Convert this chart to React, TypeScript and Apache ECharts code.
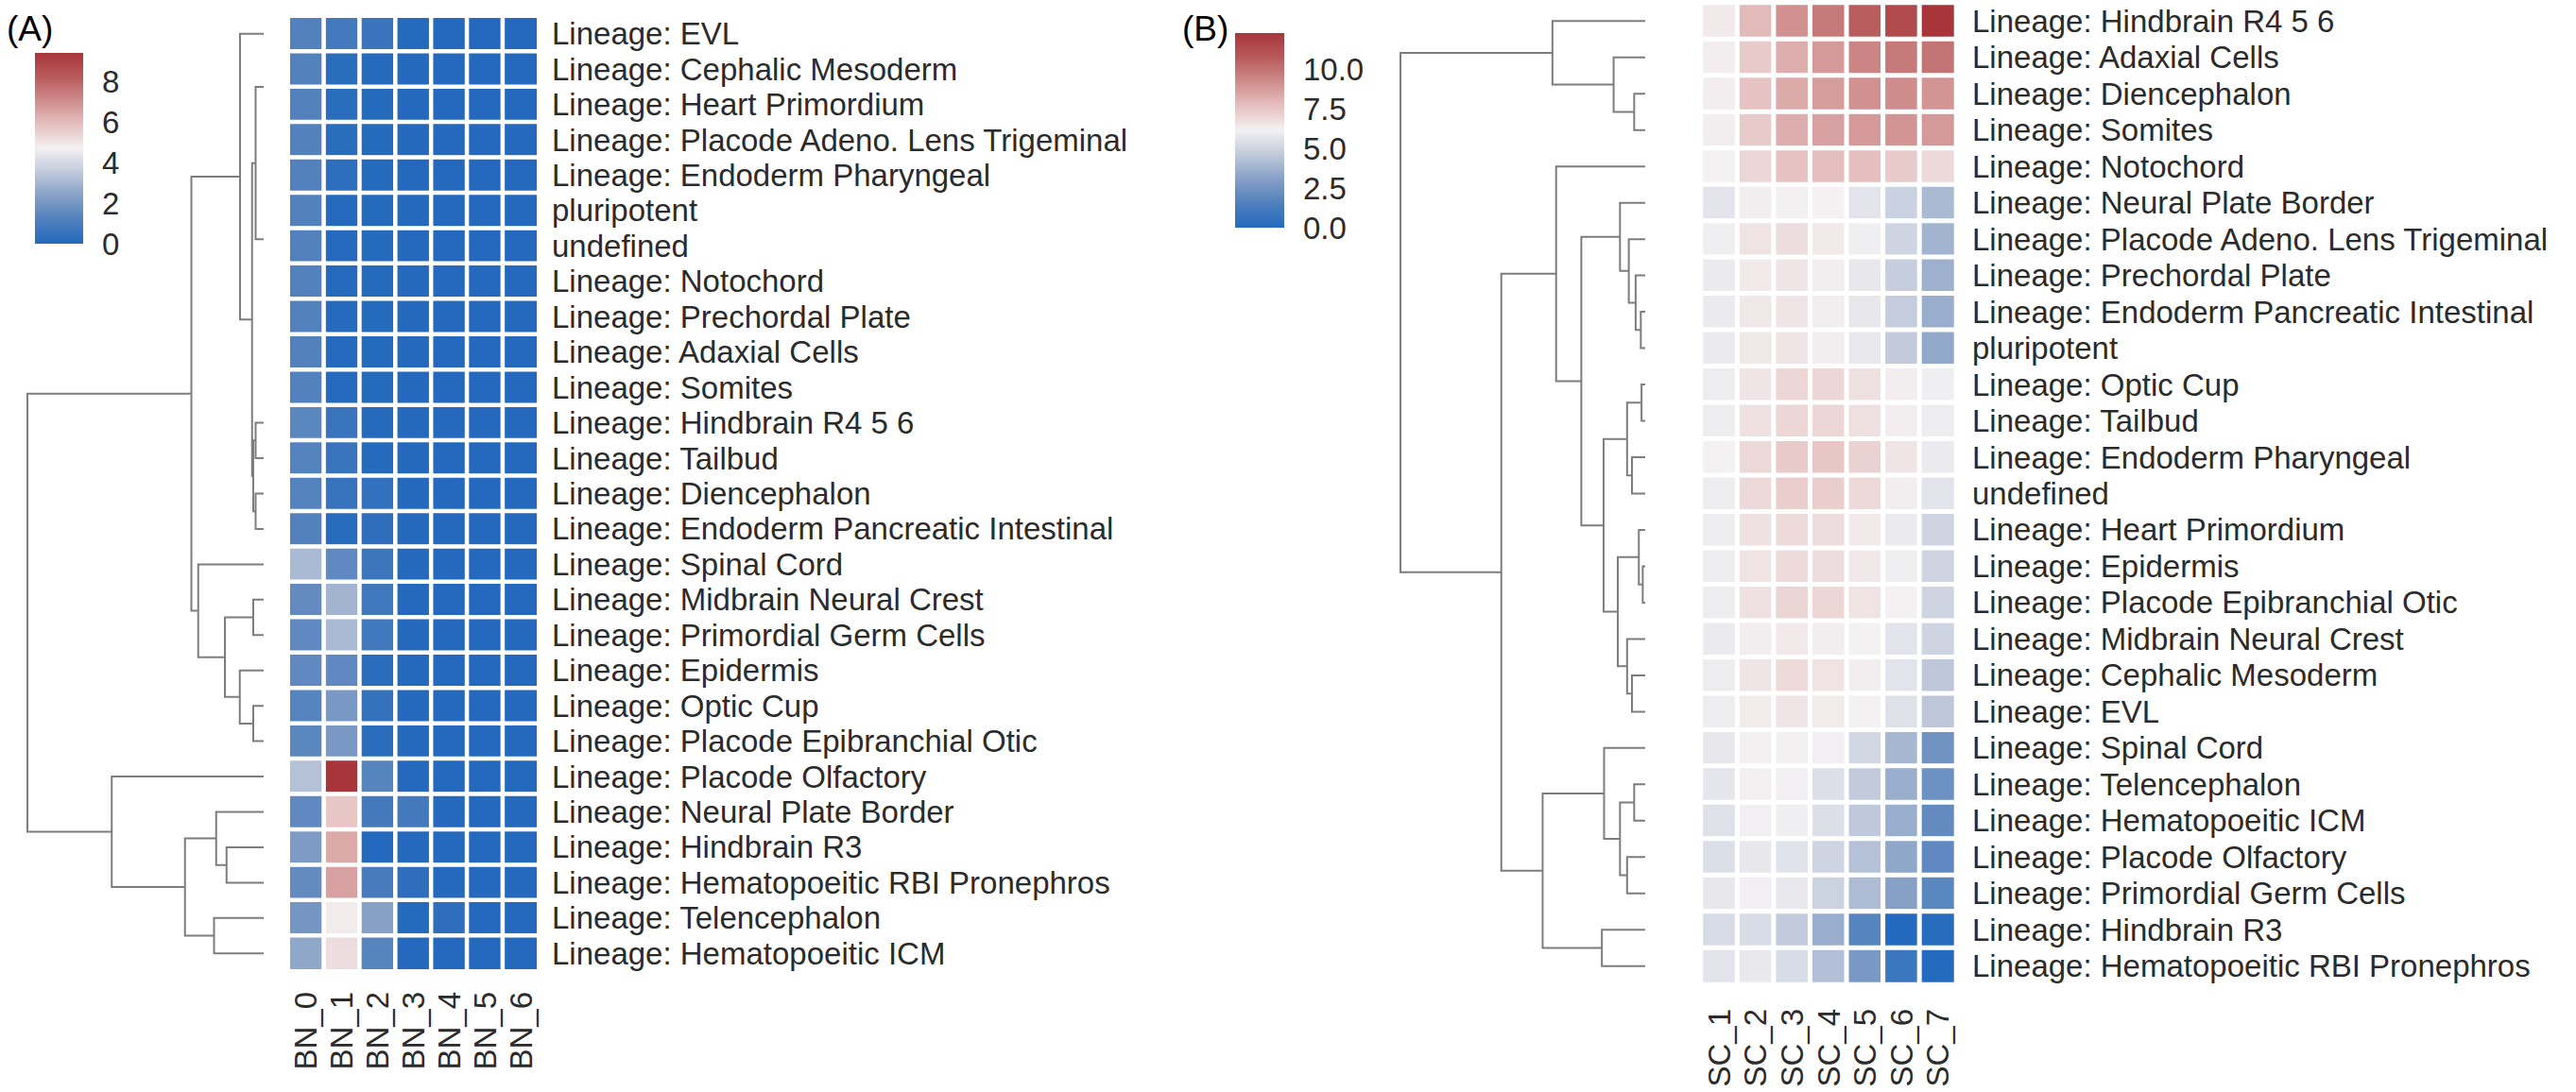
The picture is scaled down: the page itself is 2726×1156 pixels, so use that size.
import React, { useEffect, useRef } from "react";
import * as echarts from "echarts";

// ---------------- data ----------------
const ROWS_A = [
  "Lineage: EVL",
  "Lineage: Cephalic Mesoderm",
  "Lineage: Heart Primordium",
  "Lineage: Placode Adeno. Lens Trigeminal",
  "Lineage: Endoderm Pharyngeal",
  "pluripotent",
  "undefined",
  "Lineage: Notochord",
  "Lineage: Prechordal Plate",
  "Lineage: Adaxial Cells",
  "Lineage: Somites",
  "Lineage: Hindbrain R4 5 6",
  "Lineage: Tailbud",
  "Lineage: Diencephalon",
  "Lineage: Endoderm Pancreatic Intestinal",
  "Lineage: Spinal Cord",
  "Lineage: Midbrain Neural Crest",
  "Lineage: Primordial Germ Cells",
  "Lineage: Epidermis",
  "Lineage: Optic Cup",
  "Lineage: Placode Epibranchial Otic",
  "Lineage: Placode Olfactory",
  "Lineage: Neural Plate Border",
  "Lineage: Hindbrain R3",
  "Lineage: Hematopoeitic RBI Pronephros",
  "Lineage: Telencephalon",
  "Lineage: Hematopoeitic ICM",
];
const COLS_A = ["BN_0", "BN_1", "BN_2", "BN_3", "BN_4", "BN_5", "BN_6"];
const VALUES_A = [
  [1.23, 0.85, 0.57, 0.03, 0.02, 0.02, 0.02],
  [1.23, 0.19, 0.04, 0.02, 0.02, 0.02, 0.02],
  [1.23, 0.19, 0.03, 0.02, 0.02, 0.02, 0.02],
  [1.23, 0.19, 0.03, 0.02, 0.02, 0.02, 0.02],
  [1.22, 0.24, 0.03, 0.02, 0.02, 0.02, 0.02],
  [1.22, 0.05, 0.03, 0.02, 0.02, 0.02, 0.02],
  [1.22, 0.05, 0.03, 0.02, 0.02, 0.02, 0.02],
  [1.22, 0.05, 0.03, 0.02, 0.02, 0.02, 0.02],
  [1.22, 0.05, 0.03, 0.02, 0.02, 0.02, 0.02],
  [1.22, 0.05, 0.03, 0.02, 0.02, 0.02, 0.02],
  [1.22, 0.05, 0.03, 0.02, 0.02, 0.02, 0.02],
  [1.42, 0.57, 0.05, 0.02, 0.02, 0.02, 0.02],
  [1.25, 0.57, 0.06, 0.02, 0.02, 0.02, 0.02],
  [1.25, 0.52, 0.4, 0.02, 0.02, 0.02, 0.02],
  [1.23, 0.1, 0.28, 0.02, 0.02, 0.02, 0.02],
  [3.12, 1.51, 0.66, 0.02, 0.02, 0.02, 0.02],
  [1.6, 2.93, 0.76, 0.02, 0.02, 0.02, 0.02],
  [1.51, 3.12, 0.76, 0.02, 0.02, 0.02, 0.02],
  [1.51, 1.51, 0.19, 0.02, 0.02, 0.02, 0.02],
  [1.32, 2.08, 0.47, 0.02, 0.02, 0.02, 0.02],
  [1.42, 2.08, 0.19, 0.02, 0.02, 0.02, 0.02],
  [3.3, 9.44, 1.32, 0.02, 0.02, 0.02, 0.02],
  [1.51, 5.76, 0.85, 0.85, 0.02, 0.02, 0.02],
  [2.17, 6.42, 0.02, 0.02, 0.02, 0.02, 0.02],
  [1.6, 6.61, 0.94, 0.28, 0.02, 0.02, 0.02],
  [1.98, 4.86, 2.36, 0.03, 0.28, 0.02, 0.02],
  [2.55, 5.19, 1.32, 0.02, 0.02, 0.02, 0.02],
];
const VMAX_A = 9.44;
const TICKS_A = [0, 2, 4, 6, 8];

const ROWS_B = [
  "Lineage: Hindbrain R4 5 6",
  "Lineage: Adaxial Cells",
  "Lineage: Diencephalon",
  "Lineage: Somites",
  "Lineage: Notochord",
  "Lineage: Neural Plate Border",
  "Lineage: Placode Adeno. Lens Trigeminal",
  "Lineage: Prechordal Plate",
  "Lineage: Endoderm Pancreatic Intestinal",
  "pluripotent",
  "Lineage: Optic Cup",
  "Lineage: Tailbud",
  "Lineage: Endoderm Pharyngeal",
  "undefined",
  "Lineage: Heart Primordium",
  "Lineage: Epidermis",
  "Lineage: Placode Epibranchial Otic",
  "Lineage: Midbrain Neural Crest",
  "Lineage: Cephalic Mesoderm",
  "Lineage: EVL",
  "Lineage: Spinal Cord",
  "Lineage: Telencephalon",
  "Lineage: Hematopoeitic ICM",
  "Lineage: Placode Olfactory",
  "Lineage: Primordial Germ Cells",
  "Lineage: Hindbrain R3",
  "Lineage: Hematopoeitic RBI Pronephros",
];
const COLS_B = ["SC_1", "SC_2", "SC_3", "SC_4", "SC_5", "SC_6", "SC_7"];
const VALUES_B = [
  [6.4, 7.87, 9.1, 9.84, 10.7, 11.44, 12.3],
  [6.27, 7.38, 8.24, 8.86, 9.47, 9.84, 9.96],
  [6.27, 7.63, 8.36, 8.73, 9.1, 9.23, 8.98],
  [6.27, 7.38, 8.24, 8.61, 8.86, 8.98, 8.86],
  [6.15, 7.01, 7.63, 7.75, 7.75, 7.38, 6.89],
  [5.66, 6.27, 6.21, 6.15, 5.66, 4.92, 4.06],
  [6.03, 6.58, 6.77, 6.4, 6.03, 5.04, 3.81],
  [5.9, 6.4, 6.52, 6.27, 5.78, 4.8, 3.69],
  [5.9, 6.46, 6.52, 6.27, 5.78, 4.74, 3.57],
  [5.9, 6.46, 6.52, 6.27, 5.84, 4.67, 3.38],
  [5.97, 6.52, 7.01, 7.01, 6.64, 6.27, 6.03],
  [5.97, 6.64, 7.01, 7.01, 6.7, 6.27, 5.97],
  [6.15, 6.95, 7.38, 7.5, 7.13, 6.52, 5.9],
  [5.97, 6.89, 7.26, 7.26, 6.89, 6.27, 5.66],
  [5.97, 6.64, 6.83, 6.77, 6.4, 5.9, 5.04],
  [5.97, 6.58, 6.83, 6.77, 6.46, 6.03, 5.04],
  [5.97, 6.64, 7.07, 7.01, 6.58, 6.15, 5.04],
  [5.9, 6.27, 6.4, 6.27, 6.15, 5.66, 5.04],
  [5.97, 6.52, 6.83, 6.58, 6.27, 5.66, 4.55],
  [5.97, 6.33, 6.52, 6.33, 6.15, 5.54, 4.55],
  [5.78, 6.21, 6.21, 6.09, 5.17, 3.94, 2.46],
  [5.72, 6.21, 6.09, 5.47, 4.67, 3.57, 2.34],
  [5.54, 6.09, 6.03, 5.47, 4.61, 3.57, 2.09],
  [5.41, 5.78, 5.6, 5.04, 4.31, 3.32, 1.97],
  [5.78, 6.09, 5.84, 4.98, 4.12, 3.08, 1.85],
  [5.29, 5.35, 4.67, 3.57, 1.72, 0.0, 0.12],
  [5.66, 5.84, 5.35, 4.24, 2.71, 0.86, 0.05],
];
const VMAX_B = 12.3;
const TICKS_B = [0, 2.5, 5, 7.5, 10];

// dendrograms: [mergeHeight, left, right]; a number is a row index (leaf)
type Tree = number | [number, Tree, Tree];
const TREE_A: Tree = [100,
  [30.6,
    [10, 0, [4.9,
      [3.4, [0, 1, 2], [0, [0, 3, [0, 4, 5]], [0, [0, 6, 7], [0, [0, 8, 9], 10]]]],
      [4.4, [3.4, 11, 12], [3.4, 13, 14]]]],
    [27.7, 15, [16.4, [4.4, 16, 17], [10.1, 18, [4.4, 19, 20]]]]],
  [64.3, 21, [33.3, [20.1, 22, [15.7, 23, 24]], [21.0, 25, 26]]]];
const TREE_B: Tree = [100,
  [37.9, 0, [12.9, 1, [4.5, 2, 3]]],
  [58.8,
    [36.4, 4, [26.1,
      [10.3, 5, [6.7, 6, [3.9, 7, [1.8, 8, 9]]]],
      [17.0,
        [7.4, [1.5, 10, 11], [5.4, 12, 13]],
        [11.2, [2.6, 14, [1.0, 15, 16]], [7.4, 17, [5.4, 18, 19]]]]]],
    [41.9, [16.8, 20, [10.3, [4.5, 21, 22], [7.4, 23, 24]]], [17.7, 25, 26]]]];

// vlag-like colormap, evenly spaced stops
const COLORMAP = ["#2369bd", "#5080bd", "#86a0c6", "#c0c9db", "#f3f1f2", "#e6c0c0", "#ce8d8c", "#b85a5c", "#a8353a"];

// ---------------- helpers ----------------
function collectLinks(t: Tree, out: number[][]): { y: number; h: number } {
  if (typeof t === "number") return { y: t, h: 0 };
  const [h, a, b] = t;
  const A = collectLinks(a, out);
  const B = collectLinks(b, out);
  if (h > 0) out.push([h, A.y, A.h, B.y, B.h]);
  return { y: (A.y + B.y) / 2, h };
}
function heatData(vals: number[][]) {
  const d: number[][] = [];
  vals.forEach((row, r) => row.forEach((v, c) => d.push([c, r, v])));
  return d;
}

const FONT = '"Liberation Sans", Arial, sans-serif';
const TXT = "#2b2b2b";
const LINE = "#7d7d7d";

export default function App() {
  const ref = useRef<HTMLDivElement>(null);
  useEffect(() => {
    if (!ref.current) return;
    const chart = echarts.init(ref.current, undefined, { renderer: "svg" });
    const linksA: number[][] = [];
    collectLinks(TREE_A, linksA);
    const linksB: number[][] = [];
    collectLinks(TREE_B, linksB);

    const renderLink = (_p: any, api: any) => {
      const hp = api.value(0), ya = api.value(1), ha = api.value(2), yb = api.value(3), hb = api.value(4);
      const pts = [api.coord([ha, ya]), api.coord([hp, ya]), api.coord([hp, yb]), api.coord([hb, yb])];
      return { type: "polyline", shape: { points: pts }, style: { stroke: LINE, lineWidth: 2, fill: null } };
    };
    const gradient = () =>
      new echarts.graphic.LinearGradient(0, 1, 0, 0,
        COLORMAP.map((c, i) => ({ offset: i / (COLORMAP.length - 1), color: c })));

    const hidden = { show: false };
    const dendX = (gi: number) => ({ type: "value", gridIndex: gi, min: 0, max: 100, inverse: true, show: false });
    const dendY = (gi: number) => ({ type: "value", gridIndex: gi, min: -0.5, max: 26.5, inverse: true, show: false });
    const heatX = (gi: number, cols: string[], margin: number) => ({
      type: "category", gridIndex: gi, data: cols, position: "bottom",
      axisLine: hidden, axisTick: hidden, splitLine: hidden,
      axisLabel: { rotate: 90, margin, fontSize: 33, color: TXT, fontFamily: FONT, interval: 0 },
    });
    const heatY = (gi: number, rows: string[], margin: number) => ({
      type: "category", gridIndex: gi, data: rows, inverse: true, position: "right",
      axisLine: hidden, axisTick: hidden, splitLine: hidden,
      axisLabel: { margin, fontSize: 33, color: TXT, fontFamily: FONT, interval: 0 },
    });
    const cbarX = (gi: number) => ({ type: "category", gridIndex: gi, data: [""], show: false });
    const cbarY = (gi: number, vmax: number, ticks: number[], dec: number) => ({
      type: "value", gridIndex: gi, min: 0, max: vmax, position: "right",
      axisLine: hidden, axisTick: hidden, splitLine: hidden,
      axisLabel: {
        customValues: ticks, margin: 20, fontSize: 33, color: TXT, fontFamily: FONT,
        formatter: (v: number) => v.toFixed(dec),
      },
    });

    chart.setOption({
      animation: false,
      backgroundColor: "#ffffff",
      textStyle: { fontFamily: FONT },
      grid: [
        { left: 29, top: 17, width: 250, height: 1011 },
        { left: 305, top: 17, width: 265, height: 1011 },
        { left: 37, top: 56, width: 51, height: 202 },
        { left: 1482, top: 3, width: 259, height: 1039 },
        { left: 1800, top: 3, width: 270, height: 1039 },
        { left: 1307, top: 35, width: 52, height: 206 },
      ],
      xAxis: [dendX(0), heatX(1, COLS_A, 22), cbarX(2), dendX(3), heatX(4, COLS_B, 26), cbarX(5)],
      yAxis: [dendY(0), heatY(1, ROWS_A, 14), cbarY(2, VMAX_A, TICKS_A, 0), dendY(3), heatY(4, ROWS_B, 17), cbarY(5, VMAX_B, TICKS_B, 1)],
      visualMap: [
        { type: "continuous", show: false, seriesIndex: 0, min: 0, max: VMAX_A, dimension: 2, inRange: { color: COLORMAP } },
        { type: "continuous", show: false, seriesIndex: 1, min: 0, max: VMAX_B, dimension: 2, inRange: { color: COLORMAP } },
      ],
      series: [
        {
          type: "heatmap", xAxisIndex: 1, yAxisIndex: 1, data: heatData(VALUES_A),
          itemStyle: { borderColor: "#ffffff", borderWidth: 4.5 }, emphasis: { disabled: true }, silent: true,
        },
        {
          type: "heatmap", xAxisIndex: 4, yAxisIndex: 4, data: heatData(VALUES_B),
          itemStyle: { borderColor: "#ffffff", borderWidth: 5 }, emphasis: { disabled: true }, silent: true,
        },
        { type: "custom", xAxisIndex: 0, yAxisIndex: 0, data: linksA, renderItem: renderLink, clip: false, silent: true },
        { type: "custom", xAxisIndex: 3, yAxisIndex: 3, data: linksB, renderItem: renderLink, clip: false, silent: true },
        {
          type: "bar", xAxisIndex: 2, yAxisIndex: 2, data: [VMAX_A], barWidth: "100%",
          itemStyle: { color: gradient() }, silent: true,
        },
        {
          type: "bar", xAxisIndex: 5, yAxisIndex: 5, data: [VMAX_B], barWidth: "100%",
          itemStyle: { color: gradient() }, silent: true,
        },
      ],
      graphic: [
        { type: "text", left: 7, top: 12, style: { text: "(A)", fontSize: 37, fill: "#000", fontFamily: FONT } },
        { type: "text", left: 1251, top: 12, style: { text: "(B)", fontSize: 37, fill: "#000", fontFamily: FONT } },
      ],
    });
    return () => chart.dispose();
  }, []);
  return <div ref={ref} style={{ position: "fixed", left: 0, top: 0, width: 2726, height: 1156, background: "#fff" }} />;
}
